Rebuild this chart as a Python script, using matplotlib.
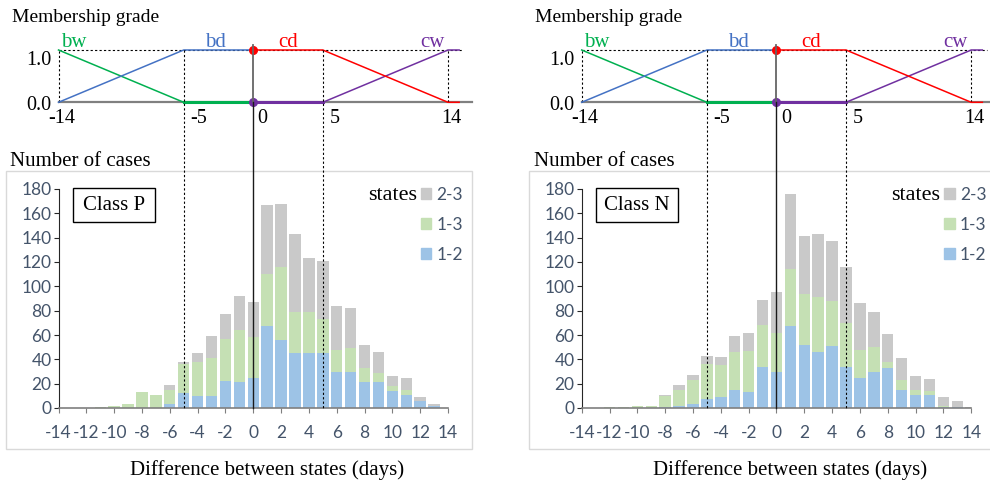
import matplotlib.pyplot as plt
import numpy as np
from matplotlib.patches import Rectangle, Patch
from matplotlib.lines import Line2D
from matplotlib.transforms import blended_transform_factory

plt.rcParams['font.family'] = 'Liberation Serif'
plt.rcParams['axes.unicode_minus'] = False

# difference between states (days), one bar per day
days = list(range(-14, 15))

# Class P counts
p_12 = [0, 0, 0, 0, 0, 0, 0, 0, 3, 12, 10, 10, 22, 21, 25, 67, 56, 45, 45, 45, 30, 30, 21, 21, 14, 11, 6, 2, 0]
p_13 = [0, 0, 0, 1, 2, 3, 13, 11, 12, 24, 28, 31, 35, 43, 33, 43, 60, 34, 34, 28, 18, 19, 12, 8, 4, 4, 0, 0, 0]
p_23 = [0, 0, 0, 0, 0, 0, 0, 0, 4, 2, 7, 18, 20, 28, 29, 57, 52, 64, 44, 48, 36, 33, 19, 17, 8, 10, 3, 1, 0]

# Class N counts
n_12 = [0, 0, 0, 0, 0, 0, 1, 2, 3, 7, 9, 15, 13, 34, 30, 67, 52, 46, 51, 34, 25, 30, 33, 15, 11, 11, 1, 1, 0]
n_13 = [0, 0, 1, 1, 2, 2, 9, 13, 20, 29, 26, 31, 34, 34, 32, 47, 42, 45, 37, 36, 23, 20, 5, 8, 4, 3, 1, 0, 0]
n_23 = [0, 0, 0, 0, 0, 0, 1, 4, 4, 7, 7, 13, 15, 21, 33, 62, 47, 52, 49, 46, 38, 29, 23, 18, 11, 10, 7, 5, 1]

hist_xticks = list(range(-14, 15, 2))
hist_yticks = list(range(0, 181, 20))
grade_ticks = [-14, -5, 0, 5, 14]

# membership functions
bw_x, bw_y = [-14, -5], [1, 0]
bw0_x, bw0_y = [-5, 0], [0, 0]
bd_x, bd_y = [-14, -5, 0], [0, 1, 1]
cd_x, cd_y = [0, 5, 14, 14.8], [1, 1, 0, 0]
cw_x, cw_y = [5, 14, 14.8], [0, 1, 1]
cw0_x, cw0_y = [0, 5], [0, 0]

W, H = 990, 484
NUM_COLOR = '#44546A'
NUM_SIZE = 12.5
C_BLUE, C_GREEN, C_GRAY = '#9DC3E6', '#C5E0B4', '#C9C9C9'
M_GREEN, M_BLUE, M_RED, M_PURPLE = '#00B050', '#4472C4', '#FF0000', '#7030A0'


def fx(px):
    return px / W


def fy(py):
    return 1 - py / H


def draw_panel(fig, x0, name, b12, b13, b23):
    wpx = 389.5
    # membership grade plot
    ax_m = fig.add_axes([fx(x0), fy(102.3), wpx / W, (102.3 - 50) / H])
    ax_m.set_xlim(-14, 14)
    ax_m.set_ylim(0, 1)
    ax_m.axis('off')
    ax_m.plot([-14, 15.7], [0, 0], color='#808080', lw=1.6, clip_on=False, zorder=1)
    ax_m.plot([-14, 15.1], [1, 1], color='black', lw=0.8, ls=(0, (2, 2)), clip_on=False)
    for v in [-14, 14]:
        ax_m.plot([v, v], [0, 1], color='black', lw=0.8, ls=(0, (2, 2)), clip_on=False)
    ax_m.plot(bw_x, bw_y, color=M_GREEN, lw=1.1, clip_on=False)
    ax_m.plot(bw0_x, bw0_y, color=M_GREEN, lw=2.2, clip_on=False, zorder=3)
    ax_m.plot(bd_x, bd_y, color=M_BLUE, lw=1.1, clip_on=False)
    ax_m.plot(cd_x, cd_y, color=M_RED, lw=1.1, clip_on=False, zorder=3)
    ax_m.plot(cw_x, cw_y, color=M_PURPLE, lw=1.1, clip_on=False)
    ax_m.plot(cw0_x, cw0_y, color=M_PURPLE, lw=2.2, clip_on=False, zorder=3)
    ax_m.plot([0], [1], 'o', color=M_RED, ms=5.5, clip_on=False, zorder=4)
    ax_m.plot([0], [0], 'o', color=M_PURPLE, ms=5.5, clip_on=False, zorder=4)
    for txt, xv, col in [('bw', -12.9, M_GREEN), ('bd', -2.7, M_BLUE),
                         ('cd', 2.5, M_RED), ('cw', 12.85, M_PURPLE)]:
        ax_m.text(xv, 1.05, txt, color=col, fontsize=15, ha='center', va='baseline')
    fig.text(fx(x0 - 7.5), fy(65), '1.0', fontsize=14.5, ha='right', va='baseline')
    fig.text(fx(x0 - 7.5), fy(110), '0.0', fontsize=14.5, ha='right', va='baseline')
    for t, dx, ha in zip(grade_ticks, [3.5, 6.5, 4.5, 6.5, 3], ['center', 'left', 'left', 'left', 'center']):
        ax_m.annotate(str(t), xy=(t, 0), xytext=(dx * 0.72, -21 * 0.72), textcoords='offset points',
                      fontsize=14.5, ha=ha, va='baseline', annotation_clip=False)
    fig.text(fx(x0 - 47), fy(22.5), 'Membership grade', fontsize=14, ha='left', va='baseline')

    # histogram
    fig.add_artist(Rectangle((fx(x0 - 52.5), fy(449)), 466 / W, 278 / H, transform=fig.transFigure,
                             fill=False, ec='#D9D9D9', lw=1))
    fig.text(fx(x0 - 48), fy(165.5), 'Number of cases', fontsize=15, ha='left', va='baseline')
    ax_h = fig.add_axes([fx(x0), fy(408), wpx / W, (408 - 189) / H])
    b12 = np.array(b12)
    b13 = np.array(b13)
    b23 = np.array(b23)
    ax_h.bar(days, b12, width=0.82, color=C_BLUE)
    ax_h.bar(days, b13, width=0.82, bottom=b12, color=C_GREEN)
    ax_h.bar(days, b23, width=0.82, bottom=b12 + b13, color=C_GRAY)
    ax_h.set_xlim(-14, 14)
    ax_h.set_ylim(0, 180)
    ax_h.set_xticks(hist_xticks)
    ax_h.set_xticklabels([str(t) for t in hist_xticks], fontfamily='Lato', fontsize=NUM_SIZE, color=NUM_COLOR)
    ax_h.set_yticks(hist_yticks)
    ax_h.set_yticklabels([str(t) for t in hist_yticks], fontfamily='Lato', fontsize=NUM_SIZE, color=NUM_COLOR)
    ax_h.spines['top'].set_visible(False)
    ax_h.spines['right'].set_visible(False)
    ax_h.spines['left'].set_color('#262626')
    ax_h.spines['bottom'].set_color('#7F7F7F')
    ax_h.spines['bottom'].set_linewidth(1.2)
    ax_h.tick_params(axis='y', direction='out', length=3.6, color='#262626', pad=1.5)
    ax_h.tick_params(axis='x', direction='out', length=3.6, color='#7F7F7F', pad=8.5)
    ax_h.patch.set_alpha(0)

    # class label box
    fig.add_artist(Rectangle((fx(x0 + 14.5), fy(222)), 82 / W, 34 / H, transform=fig.transFigure,
                             fill=False, ec='black', lw=1))
    fig.text(fx(x0 + 55.5), fy(210.5), 'Class ' + name, fontsize=15, ha='center', va='baseline')

    # legend
    handles = [Patch(color=C_GRAY), Patch(color=C_GREEN), Patch(color=C_BLUE)]
    ax_h.legend(handles, ['2-3', '1-3', '1-2'], prop={'family': 'Lato', 'size': NUM_SIZE},
                labelcolor=NUM_COLOR, frameon=False, loc='upper left',
                bbox_to_anchor=(fx(x0 + 362.5), fy(187)), bbox_transform=fig.transFigure,
                borderpad=0, borderaxespad=0, handlelength=0.6, handleheight=0.6,
                handletextpad=0.3, labelspacing=0.8)
    fig.text(fx(x0 + 358.5), fy(199.5), 'states', fontsize=16, ha='right', va='baseline')

    fig.text(fx(x0 + 208.5), fy(475.5), 'Difference between states (days)', fontsize=15,
             ha='center', va='baseline')

    # guide lines running from the grade plot down into the histogram
    tr = blended_transform_factory(ax_h.transData, fig.transFigure)
    fig.add_artist(Line2D([0, 0], [fy(45), fy(102.3)], transform=tr, color='#666666', lw=1.3))
    fig.add_artist(Line2D([0, 0], [fy(102.3), fy(408)], transform=tr, color='#1a1a1a', lw=1.0))
    for v in [-5, 5]:
        fig.add_artist(Line2D([v, v], [fy(50), fy(408)], transform=tr, color='black', lw=0.8,
                              ls=(0, (2, 2))))


fig = plt.figure(figsize=(9.9, 4.84), dpi=100)
draw_panel(fig, 58.5, 'P', p_12, p_13, p_23)
draw_panel(fig, 581.7, 'N', n_12, n_13, n_23)
fig.savefig('out.png', dpi=100)
